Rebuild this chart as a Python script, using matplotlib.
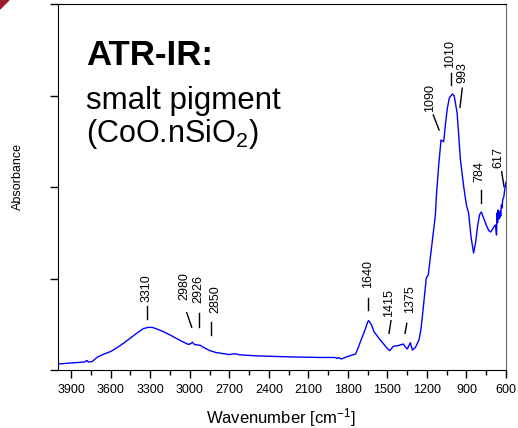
import numpy as np
import matplotlib
matplotlib.use('Agg')
import matplotlib.pyplot as plt
from matplotlib.patches import Polygon

plt.rcParams['font.family'] = ['Liberation Sans', 'DejaVu Sans']
plt.rcParams['mathtext.fontset'] = 'custom'
plt.rcParams['mathtext.rm'] = 'Liberation Sans'
plt.rcParams['mathtext.default'] = 'regular'

# spectrum (wavenumber in cm-1, absorbance in arbitrary units)
wavenumber = [4000, 3950, 3900, 3850, 3800, 3780, 3770, 3740, 3700, 3650,
              3600, 3550, 3500, 3450, 3400, 3350, 3310, 3280, 3250, 3200,
              3150, 3100, 3050, 3010, 2990, 2980, 2965, 2940, 2920, 2900,
              2850, 2800, 2750, 2700, 2660, 2620, 2500, 2400, 2200, 2000,
              1900, 1880, 1870, 1850, 1820, 1801, 1741, 1720, 1700, 1670,
              1650, 1642, 1620, 1602, 1554, 1503, 1483, 1455, 1420, 1379,
              1364, 1349, 1326, 1311, 1288, 1260, 1245, 1232, 1205, 1190,
              1160, 1136, 1128, 1110, 1093, 1085, 1073, 1060, 1045, 1030,
              1007, 993, 971, 946, 921, 900, 884, 865, 846, 830,
              815, 800, 787, 770, 750, 730, 717, 700, 690, 680,
              672, 668, 664, 660, 656, 652, 648, 644, 640, 635,
              630, 625, 617, 610, 600]
absorbance = [0.066, 0.071, 0.077, 0.082, 0.087, 0.104, 0.087, 0.093, 0.142, 0.175,
              0.202, 0.246, 0.295, 0.350, 0.404, 0.454, 0.467, 0.464, 0.448, 0.419,
              0.383, 0.344, 0.306, 0.279, 0.290, 0.303, 0.279, 0.273, 0.270, 0.251,
              0.213, 0.191, 0.180, 0.169, 0.178, 0.166, 0.155, 0.150, 0.142, 0.137,
              0.137, 0.126, 0.137, 0.120, 0.137, 0.148, 0.175, 0.250, 0.328, 0.437,
              0.525, 0.539, 0.492, 0.419, 0.328, 0.240, 0.211, 0.259, 0.266, 0.284,
              0.251, 0.230, 0.298, 0.219, 0.244, 0.330, 0.450, 0.623, 1.005, 1.038,
              1.400, 1.694, 1.913, 2.250, 2.514, 2.505, 2.495, 2.680, 2.863, 2.973,
              3.016, 2.995, 2.809, 2.300, 2.003, 1.800, 1.716, 1.450, 1.279, 1.400,
              1.580, 1.700, 1.727, 1.661, 1.585, 1.522, 1.508, 1.541, 1.570, 1.585,
              1.475, 1.716, 1.610, 1.749, 1.650, 1.716, 1.661, 1.738, 1.683, 1.803,
              1.770, 1.858, 1.891, 1.967, 2.058]

# band labels
peak_labels = ['3310', '2980', '2926', '2850', '1640', '1415', '1375',
               '1090', '1010', '993', '784', '617']
# marker line (x0, y0) top -> (x1, y1) bottom, text anchor (x, y)
line_top = [(3327, 0.699), (3023, 0.626), (2930, 0.623), (2841, 0.528),
            (1645, 0.790), (1473, 0.539), (1353, 0.510), (1152, 2.787),
            (1020, 3.249), (932, 3.079), (790, 1.967), (633, 2.167)]
line_bot = [(3327, 0.557), (2985, 0.467), (2930, 0.470), (2841, 0.383),
            (1645, 0.656), (1488, 0.401), (1366, 0.401), (1108, 2.623),
            (1020, 3.115), (949, 2.871), (790, 1.822), (615, 2.003)]
text_pos = [(3325, 0.743), (3044, 0.765), (2935, 0.732), (2808, 0.623),
            (1644, 0.893), (1486, 0.583), (1328, 0.620), (1177, 2.820),
            (1025, 3.301), (929, 3.140), (802, 2.058), (658, 2.204)]

fig = plt.figure(figsize=(5.18, 4.28), dpi=100)
ax = fig.add_axes([58 / 518, 1 - 370 / 428, 448 / 518, 366 / 428])

ax.plot(wavenumber, absorbance, color='#0000ff', lw=1.0)

for lab, (x0, y0), (x1, y1), (tx, ty) in zip(peak_labels, line_top, line_bot, text_pos):
    ax.plot([x0, x1], [y0, y1], color='black', lw=1.0)
    ax.text(tx, ty, lab, rotation=90, ha='center', va='bottom', fontsize=9)

ax.set_xlim(4000, 600)
ax.set_ylim(0, 4)
ax.set_xticks(np.arange(3900, 599, -300))
ax.set_xticks(np.arange(3750, 599, -300), minor=True)
ax.set_yticks([0, 1, 2, 3, 4])
ax.set_yticklabels([])
ax.tick_params(axis='x', which='major', direction='out', length=6, width=1,
               labelsize=9, pad=4)
ax.tick_params(axis='x', which='minor', direction='out', length=3.5, width=1)
ax.tick_params(axis='y', direction='out', length=6, width=1)
ax.spines['right'].set_color('#666666')

# title block
ax.text(0.0625, 0.833, 'ATR-IR:', transform=ax.transAxes, fontsize=25,
        fontweight='bold', va='baseline', ha='left')
ax.text(0.0625, 0.713, 'smalt pigment', transform=ax.transAxes, fontsize=22.5,
        va='baseline', ha='left')
ax.text(0.0625, 0.622, '(CoO.nSiO$_2$)', transform=ax.transAxes, fontsize=22,
        va='baseline', ha='left')

fig.text(18 / 518, 1 - 177 / 428, 'Absorbance', rotation=90, ha='center',
         va='center', fontsize=9)
fig.text(281 / 518, 1 - 423 / 428, 'Wavenumber [cm$^{-1}$]', ha='center',
         va='baseline', fontsize=12)

# red corner mark
fig.patches.append(Polygon([(0, 1), (9 / 518, 1), (0, 1 - 9 / 428)], closed=True,
                           transform=fig.transFigure, color='#9b1b2e'))

fig.savefig('out.png', dpi=100)
